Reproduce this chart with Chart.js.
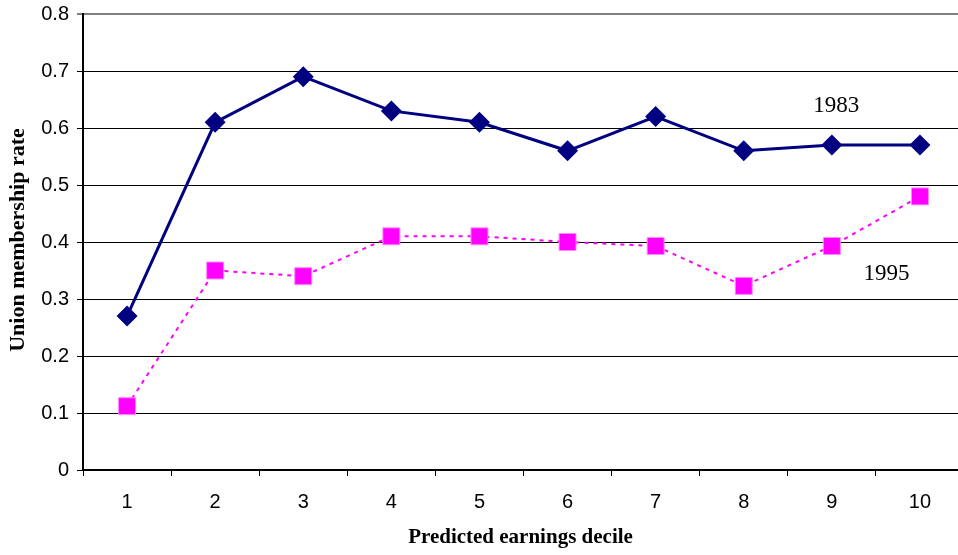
<!DOCTYPE html>
<html>
<head>
<meta charset="utf-8">
<script src="https://cdn.jsdelivr.net/npm/chart.js@4/dist/chart.umd.min.js"></script>
<style>
  html, body { margin: 0; padding: 0; background: #fff; overflow: hidden; }
</style>
</head>
<body>
<canvas id="myChart" width="966" height="555"></canvas>
<script>
const chartEle = document.getElementById('myChart')

// deciles on the x axis
let deciles = ['1', '2', '3', '4', '5', '6', '7', '8', '9', '10']

// union membership rate by predicted earnings decile
let rate1983 = [0.27, 0.61, 0.69, 0.63, 0.61, 0.56, 0.62, 0.56, 0.57, 0.57]
let rate1995 = [0.112, 0.35, 0.34, 0.41, 0.41, 0.40, 0.393, 0.323, 0.393, 0.48]

let yTicks = [0, 0.1, 0.2, 0.3, 0.4, 0.5, 0.6, 0.7, 0.8]

// series labels written inside the plot (data coords: category index, rate)
let seriesNotes = [
    { text: '1983', x: 8.05, y: 0.639 },
    { text: '1995', x: 8.62, y: 0.344 },
]

const textPlugin = {
    id: 'textPlugin',
    afterDraw(chart) {
        const ctx = chart.ctx
        const area = chart.chartArea
        const xs = chart.scales.x, ys = chart.scales.y
        ctx.save()
        ctx.fillStyle = '#000'
        ctx.textAlign = 'center'
        ctx.textBaseline = 'middle'

        // notes for each line
        ctx.font = '23px "Liberation Serif", "Times New Roman", serif'
        seriesNotes.forEach(n => {
            ctx.fillText(n.text, xs.getPixelForValue(n.x), ys.getPixelForValue(n.y))
        })

        // x title
        ctx.font = 'bold 21px "Liberation Serif", "Times New Roman", serif'
        ctx.fillText('Predicted earnings decile', (area.left + 958) / 2, 538)

        // y title, cut off at the top like the original
        ctx.save()
        ctx.beginPath()
        ctx.rect(0, 129, 40, 400)
        ctx.clip()
        ctx.font = 'bold 22px "Liberation Serif", "Times New Roman", serif'
        ctx.translate(18, (area.top + area.bottom) / 2 - 2)
        ctx.rotate(-Math.PI / 2)
        ctx.fillText('Union membership rate', 0, 0)
        ctx.restore()

        ctx.restore()
    }
}

let config = {
    type: 'line',
    data: {
        labels: deciles,
        datasets: [
            {
                label: '1983',
                data: rate1983,
                borderColor: '#000080',
                backgroundColor: '#000080',
                borderWidth: 3,
                pointStyle: 'rectRot',
                pointRadius: 10.5,
                pointBorderWidth: 0,
                tension: 0,
                clip: false,
            },
            {
                label: '1995',
                data: rate1995,
                borderColor: '#FF00FF',
                backgroundColor: '#FF00FF',
                borderWidth: 2,
                borderDash: [4, 5],
                pointStyle: 'rect',
                pointRadius: 12,
                pointBorderColor: '#FF88FF',
                pointBorderWidth: 1,
                tension: 0,
                clip: false,
            },
        ]
    },
    options: {
        responsive: false,
        animation: false,
        devicePixelRatio: 1,
        events: [],
        layout: { autoPadding: false, padding: { top: 14, right: 2, left: 0, bottom: 0 } },
        plugins: {
            legend: { display: false },
            tooltip: { enabled: false },
        },
        scales: {
            x: {
                offset: true,
                grid: {
                    offset: true,
                    drawOnChartArea: false,
                    tickLength: 6,
                    color: '#000',
                    lineWidth: 1,
                },
                border: { color: '#000', width: 2 },
                ticks: {
                    color: '#000',
                    padding: 14,
                    font: { family: '"Liberation Sans", Arial, sans-serif', size: 20 },
                },
                afterFit(scale) {
                    scale.height = 85
                    scale.paddingLeft = 0
                    scale.paddingRight = 0
                },
            },
            y: {
                min: 0,
                max: 0.8,
                afterBuildTicks(scale) { scale.ticks = yTicks.map(v => ({ value: v })) },
                grid: {
                    color: c => (c.tick && c.tick.value === 0.8) ? '#808080' : '#000',
                    lineWidth: c => (c.tick && c.tick.value === 0.8) ? 2 : 1,
                    tickLength: 6,
                },
                border: { color: '#000', width: 2 },
                ticks: {
                    color: '#000',
                    padding: 8,
                    font: { family: '"Liberation Sans", Arial, sans-serif', size: 20 },
                    callback: v => v === 0 ? '0' : v.toFixed(1),
                },
                afterFit(scale) {
                    scale.width = 83
                    scale.paddingTop = 0
                    scale.paddingBottom = 0
                },
            },
        },
    },
    plugins: [textPlugin],
}

const chart = new Chart(chartEle, config)
</script>
</body>
</html>
